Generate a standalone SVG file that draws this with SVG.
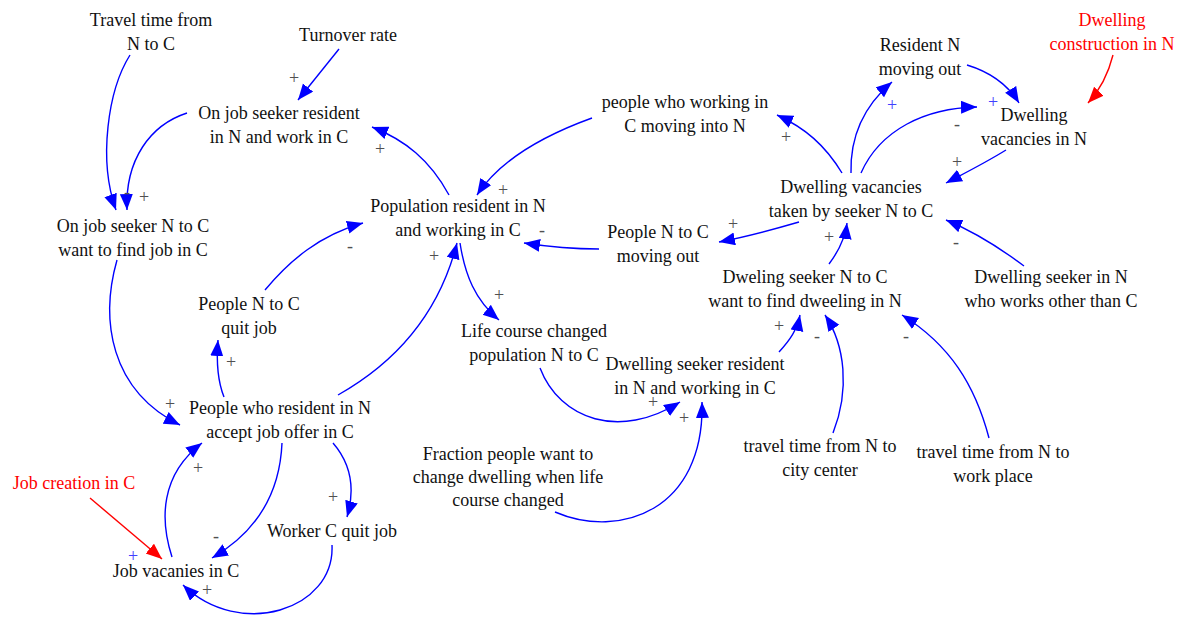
<svg xmlns="http://www.w3.org/2000/svg" width="1181" height="622" viewBox="0 0 1181 622">
<defs>
<style>
.t{font-family:"Liberation Serif","Times New Roman",serif;font-size:18px;fill:#111;text-anchor:middle}
.r{fill:#ff0000}
.e{fill:none;stroke:#0000ff;stroke-width:1.4}
.er{fill:none;stroke:#ff0000;stroke-width:1.4}
.p{font-family:"Liberation Serif","Times New Roman",serif;font-size:18px;fill:#505050;text-anchor:middle}
.pb{fill:#4040ff}
</style>
<marker id="ab" markerUnits="userSpaceOnUse" markerWidth="18" markerHeight="14" refX="16" refY="6.5" orient="auto"><path d="M0,0 L16,6.5 L0,13 z" fill="#0000ff"/></marker>
<marker id="ar" markerUnits="userSpaceOnUse" markerWidth="18" markerHeight="14" refX="16" refY="6.5" orient="auto"><path d="M0,0 L16,6.5 L0,13 z" fill="#ff0000"/></marker>
</defs>
<rect width="1181" height="622" fill="#fff"/>
<g id="connectors">
<path class="e" marker-end="url(#ab)" d="M130,55 C108,90 98,160 116,210"/>
<path class="e" marker-end="url(#ab)" d="M187,113 C150,125 125,160 127,210"/>
<path class="e" marker-end="url(#ab)" d="M339,49 L298,100"/>
<path class="e" marker-end="url(#ab)" d="M449,195 C430,160 405,140 372,127"/>
<path class="e" marker-end="url(#ab)" d="M117,260 C100,320 110,390 180,425"/>
<path class="e" marker-end="url(#ab)" d="M224,397 C218,382 216,365 218,340"/>
<path class="e" marker-end="url(#ab)" d="M265,290 C290,260 320,235 363,223"/>
<path class="e" marker-end="url(#ab)" d="M338,395 C400,360 440,310 457,243"/>
<path class="e" marker-end="url(#ab)" d="M460,243 C465,275 475,300 499,320"/>
<path class="e" marker-end="url(#ab)" d="M592,118 C545,135 500,160 477,195"/>
<path class="e" marker-end="url(#ab)" d="M599,249 C575,249 550,247 524,243"/>
<path class="er" marker-end="url(#ar)" d="M90,498 L162,559"/>
<path class="e" marker-end="url(#ab)" d="M172,557 C160,520 160,475 202,443"/>
<path class="e" marker-end="url(#ab)" d="M282,443 C280,490 260,530 212,558"/>
<path class="e" marker-end="url(#ab)" d="M333,443 C352,465 355,490 347,517"/>
<path class="e" marker-end="url(#ab)" d="M332,545 C335,610 240,640 183,585"/>
<path class="e" marker-end="url(#ab)" d="M540,368 C560,420 620,440 680,402"/>
<path class="e" marker-end="url(#ab)" d="M555,512 C620,540 705,510 702,402"/>
<path class="e" marker-end="url(#ab)" d="M779,352 C790,340 797,330 800,315"/>
<path class="e" marker-end="url(#ab)" d="M833,433 C850,390 845,345 825,315"/>
<path class="e" marker-end="url(#ab)" d="M989,438 C975,385 950,345 902,315"/>
<path class="e" marker-end="url(#ab)" d="M829,264 C838,252 845,240 847,223"/>
<path class="e" marker-end="url(#ab)" d="M1024,266 C1000,248 975,232 946,220"/>
<path class="e" marker-end="url(#ab)" d="M799,222 C775,229 750,236 719,242"/>
<path class="e" marker-end="url(#ab)" d="M842,173 C825,145 805,128 777,115"/>
<path class="e" marker-end="url(#ab)" d="M851,173 C850,135 865,105 892,82"/>
<path class="e" marker-end="url(#ab)" d="M861,173 C880,130 925,108 977,107"/>
<path class="e" marker-end="url(#ab)" d="M967,65 C990,72 1008,85 1019,103"/>
<path class="e" marker-end="url(#ab)" d="M1006,150 C985,163 965,173 946,183"/>
<path class="er" marker-end="url(#ar)" d="M1113,55 C1108,75 1100,90 1088,103"/>
</g>
<g id="polarities">
<text class="p" x="127" y="198">-</text>
<text class="p" x="144" y="203">+</text>
<text class="p" x="294" y="84">+</text>
<text class="p" x="380" y="155">+</text>
<text class="p" x="170" y="410">+</text>
<text class="p" x="231" y="368">+</text>
<text class="p" x="350" y="252">-</text>
<text class="p" x="434" y="262">+</text>
<text class="p" x="499" y="301">+</text>
<text class="p" x="503" y="196">+</text>
<text class="p" x="542" y="236">-</text>
<text class="p pb" x="133" y="562">+</text>
<text class="p" x="198" y="474">+</text>
<text class="p" x="216" y="542">-</text>
<text class="p" x="333" y="503">+</text>
<text class="p" x="207" y="596">+</text>
<text class="p" x="653" y="408">+</text>
<text class="p" x="684" y="424">+</text>
<text class="p" x="779" y="332">+</text>
<text class="p" x="817" y="342">-</text>
<text class="p" x="906" y="342">-</text>
<text class="p" x="829" y="243">+</text>
<text class="p" x="956" y="248">-</text>
<text class="p" x="733" y="230">+</text>
<text class="p" x="786" y="143">+</text>
<text class="p pb" x="892" y="111">+</text>
<text class="p" x="957" y="130">-</text>
<text class="p pb" x="993" y="108">+</text>
<text class="p" x="957" y="168">+</text>
</g>
<g id="n-travel-time"><text class="t" x="151" y="26">Travel time from</text><text class="t" x="151" y="50">N to C</text></g>
<g id="n-turnover"><text class="t" x="348" y="41">Turnover rate</text></g>
<g id="n-onjob-resident"><text class="t" x="279" y="119">On job seeker resident</text><text class="t" x="279" y="143">in N and work in C</text></g>
<g id="n-onjob-seeker"><text class="t" x="133" y="232">On job seeker N to C</text><text class="t" x="133" y="256">want to find job in C</text></g>
<g id="n-quit-job"><text class="t" x="249" y="310">People N to C</text><text class="t" x="249" y="334">quit job</text></g>
<g id="n-accept-offer"><text class="t" x="280" y="414">People who resident in N</text><text class="t" x="280" y="438">accept job offer in C</text></g>
<g id="n-job-creation"><text class="t r" x="74" y="489">Job creation in C</text></g>
<g id="n-job-vacancies"><text class="t" x="176" y="577">Job vacanies in C</text></g>
<g id="n-worker-quit"><text class="t" x="332" y="537">Worker C quit job</text></g>
<g id="n-population"><text class="t" x="458" y="212">Population resident in N</text><text class="t" x="458" y="236">and working in C</text></g>
<g id="n-moving-into"><text class="t" x="685" y="108">people who working in</text><text class="t" x="685" y="132">C moving into N</text></g>
<g id="n-moving-out"><text class="t" x="658" y="238">People N to C</text><text class="t" x="658" y="262">moving out</text></g>
<g id="n-life-course"><text class="t" x="534" y="337">Life course changed</text><text class="t" x="534" y="361">population N to C</text></g>
<g id="n-dwelling-seeker-resident"><text class="t" x="695" y="370">Dwelling seeker resident</text><text class="t" x="695" y="394">in N and working in C</text></g>
<g id="n-fraction"><text class="t" x="508" y="460">Fraction people want to</text><text class="t" x="508" y="483">change dwelling when life</text><text class="t" x="508" y="506">course changed</text></g>
<g id="n-vacancies-taken"><text class="t" x="851" y="193">Dwelling vacancies</text><text class="t" x="851" y="217">taken by seeker N to C</text></g>
<g id="n-resident-moving-out"><text class="t" x="920" y="51">Resident N</text><text class="t" x="920" y="75">moving out</text></g>
<g id="n-vacancies-n"><text class="t" x="1034" y="121">Dwelling</text><text class="t" x="1034" y="145">vacancies in N</text></g>
<g id="n-construction"><text class="t r" x="1112" y="26">Dwelling</text><text class="t r" x="1112" y="50">construction in N</text></g>
<g id="n-dweling-seeker"><text class="t" x="805" y="283">Dweling seeker N to C</text><text class="t" x="805" y="307">want to find dweeling in N</text></g>
<g id="n-seeker-other"><text class="t" x="1051" y="283">Dwelling seeker in N</text><text class="t" x="1051" y="307">who works other than C</text></g>
<g id="n-tt-city"><text class="t" x="820" y="452">travel time from N to</text><text class="t" x="820" y="476">city center</text></g>
<g id="n-tt-work"><text class="t" x="993" y="458">travel time from N to</text><text class="t" x="993" y="482">work place</text></g>
</svg>
